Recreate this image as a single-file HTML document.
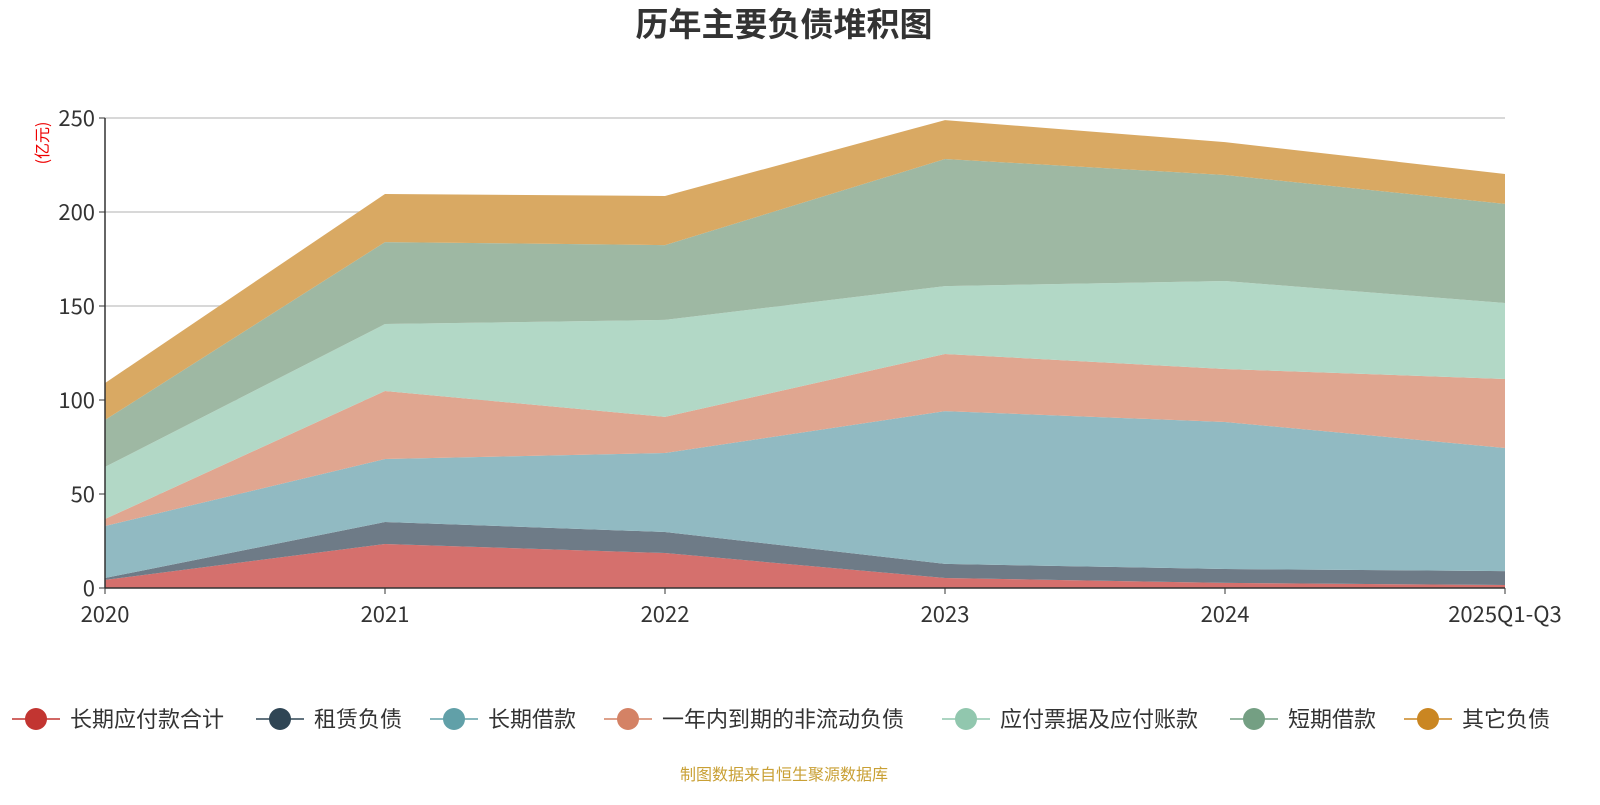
<!DOCTYPE html>
<html><head><meta charset="utf-8"><style>
body{margin:0;background:#fff;width:1600px;height:800px;overflow:hidden;font-family:"Noto Sans CJK SC","Liberation Sans",sans-serif}
text{font-family:"Noto Sans CJK SC","Liberation Sans",sans-serif}
</style></head><body>
<svg id="c" width="1600" height="800" xmlns="http://www.w3.org/2000/svg">
<text x="784" y="36" text-anchor="middle" font-size="33" font-weight="bold" fill="#333">历年主要负债堆积图</text>
<text transform="translate(48,143) rotate(-90)" text-anchor="middle" font-size="16" fill="#e00">(亿元)</text>
<text x="784" y="780" text-anchor="middle" font-size="16" fill="#c9a035">制图数据来自恒生聚源数据库</text>
<g id="grid"></g><g id="areas"></g><g id="axes"></g><g id="legend"></g>
</svg>
<script>
const categories=["2020","2021","2022","2023","2024","2025Q1-Q3"];
const seriesNames=["长期应付款合计","租赁负债","长期借款","一年内到期的非流动负债","应付票据及应付账款","短期借款","其它负债"];
const s1=[4.3,23.4,18.6,5.3,2.7,1.6];
const s2=[1.0,11.7,11.2,7.5,7.4,7.4];
const s3=[27.7,33.5,42.0,81.3,78.2,65.5];
const s4=[3.7,36.2,19.2,30.4,28.2,36.7];
const s5=[27.7,35.6,51.6,36.1,46.8,40.4];
const s6=[25.0,43.6,39.8,67.6,56.4,52.7];
const s7=[19.6,25.6,26.1,20.7,17.5,15.9];
const yTicks=[0,50,100,150,200,250];
const series=[s1,s2,s3,s4,s5,s6,s7];
const fills=["#d5706d","#6e7b87","#91bac2","#e0a690","#b2d8c6","#9eb8a3","#d9a963"];
const icons=["#c23531","#2f4554","#61a0a8","#d48265","#91c7ae","#749f83","#ca8622"];
const NS="http://www.w3.org/2000/svg";
const x0=105,x1=1505,y0=588,y1=118,yMax=250;
const X=i=>x0+(x1-x0)*i/(categories.length-1);
const Y=v=>y0-(y0-y1)*v/yMax;
function mk(t,a,p){const e=document.createElementNS(NS,t);for(const k in a)e.setAttribute(k,a[k]);p.appendChild(e);return e;}
const grid=document.getElementById('grid'),areas=document.getElementById('areas'),axes=document.getElementById('axes'),legend=document.getElementById('legend');
yTicks.forEach(v=>{
 if(v>0){const g=mk('line',{x1:x0,x2:x1,y1:Y(v),y2:Y(v),stroke:'#ccc','stroke-width':1.5},grid);
 
 }
 const t=mk('text',{x:x0-10,y:Y(v)+8,'text-anchor':'end','font-size':22,fill:'#333'},axes);t.textContent=v;
 
 
 mk('line',{x1:x0-6,x2:x0,y1:Y(v),y2:Y(v),stroke:'#333'},axes);
});
let base=categories.map(()=>0);
series.forEach((s,k)=>{
 const top=base.map((b,i)=>b+s[i]);
 let d='M'+top.map((v,i)=>X(i)+','+Y(v)).join(' L');
 for(let i=base.length-1;i>=0;i--)d+=' L'+X(i)+','+Y(base[i]);
 const p=mk('path',{d:d+'Z',fill:fills[k]},areas);
 
 
 base=top;
});
mk('line',{x1:x0,x2:x0,y1:y1,y2:y0,stroke:'#333','stroke-width':1.5},axes);
mk('line',{x1:x0,x2:x1,y1:y0,y2:y0,stroke:'#333','stroke-width':1.5},axes);
categories.forEach((c,i)=>{
 mk('line',{x1:X(i),x2:X(i),y1:y0,y2:y0+6,stroke:'#333'},axes);
 const t=mk('text',{x:X(i),y:622,'text-anchor':'middle','font-size':22,fill:'#333'},axes);t.textContent=c;
 
 
});
const lx=[12,256,430,604,942,1230,1404];
seriesNames.forEach((n,k)=>{
 const g=mk('g',{},legend);
 
 
 mk('line',{x1:lx[k],x2:lx[k]+48,y1:719,y2:719,stroke:icons[k],'stroke-width':1.5},g);
 mk('circle',{cx:lx[k]+24,cy:719,r:11,fill:icons[k]},g);
 const t=mk('text',{x:lx[k]+58,y:727,'font-size':22,fill:'#333'},g);t.textContent=n;
});
</script>
</body></html>
